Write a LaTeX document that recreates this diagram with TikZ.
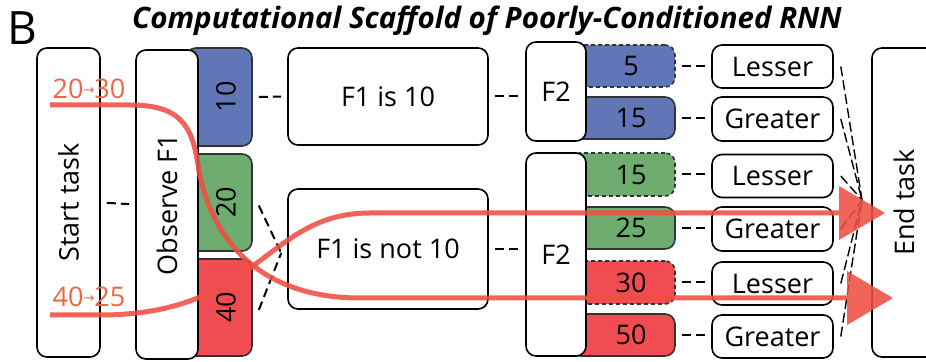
\documentclass[tikz,border=0pt]{standalone}
\usepackage{fontspec}
\setmainfont{Open Sans}
\newfontfamily\arrowfont{DejaVu Sans}
\usepackage{tikz}
\usetikzlibrary{arrows.meta}

\begin{document}
\begin{tikzpicture}[>={Triangle[length=46bp,width=54bp,line width=0bp]},
  font=\fontsize{27bp}{32bp}\selectfont,
  box/.style={draw,rounded corners=10bp,line width=1.6bp,fill=white,inner sep=0pt},
  cbox/.style={draw=black!80,rounded corners=10bp,line width=1.6bp,inner sep=0pt},
  guess/.style={cbox,dash pattern=on 4bp off 3bp},
  link/.style={dash pattern=on 9bp off 5bp,line width=2bp,shorten <=6bp,shorten >=6bp},
  fan/.style={dash pattern=on 10bp off 4bp,line width=1.4bp},
  flow/.style={->,draw=flowc,opacity=0.88,line width=5bp}]
%%
%%
\definecolor{cblue}{RGB}{96,118,182}%
\definecolor{cgreen}{RGB}{111,172,111}%
\definecolor{cred}{RGB}{240,76,82}%
\definecolor{flowc}{RGB}{238,78,66}%
\definecolor{labc}{RGB}{242,100,64}%
%
\clip (0bp,0bp) rectangle (926bp,362bp);
  \node (title) at (487bp,341bp) [font=\fontsize{29.5bp}{34bp}\selectfont] {\bfseries\itshape Computational Scaffold of Poorly-Conditioned RNN};
  \node (panel) at (22bp,334bp) [font=\fontsize{46bp}{52bp}\selectfont] {B};
%
\begin{scope}
  % first feature, colour coded
  \node (b10) at (219bp,265bp) [cbox,fill=cblue,minimum width=66bp,minimum height=98bp] {};
  \node (b20) at (219bp,159.5bp) [cbox,fill=cgreen,minimum width=66bp,minimum height=97bp] {};
  \node (b40) at (219bp,54.5bp) [cbox,fill=cred,minimum width=66bp,minimum height=97bp] {};
  \node (n10) at (226bp,265bp) [rotate=90] {10};
  \node (n20) at (226bp,159.5bp) [rotate=90] {20};
  \node (n40) at (226bp,54.5bp) [rotate=90] {40};
\end{scope}
\begin{scope}
  % second feature, colour coded
  \node (c5) at (622.5bp,296bp) [guess,fill=cblue,minimum width=105bp,minimum height=42bp] {};
  \node (c15a) at (622.5bp,244bp) [cbox,fill=cblue,minimum width=105bp,minimum height=42bp] {};
  \node (c15b) at (622.5bp,187.5bp) [guess,fill=cgreen,minimum width=105bp,minimum height=43bp] {};
  \node (c25) at (622.5bp,134bp) [cbox,fill=cgreen,minimum width=105bp,minimum height=42bp] {};
  \node (c30) at (622.5bp,79.5bp) [guess,fill=cred,minimum width=105bp,minimum height=43bp] {};
  \node (c50) at (622.5bp,27bp) [cbox,fill=cred,minimum width=105bp,minimum height=42bp] {};
  \node (n5) at (631bp,296bp) {5};
  \node (n15a) at (631bp,244bp) {15};
  \node (n15b) at (631bp,187.5bp) {15};
  \node (n25) at (631bp,134bp) {25};
  \node (n30) at (631bp,79.5bp) {30};
  \node (n50) at (631bp,27bp) {50};
\end{scope}
%
  \node (start) at (68.5bp,159.5bp) [box,rotate=90,minimum width=309bp,minimum height=63bp] {Start task};
  \node (obs) at (167bp,157.5bp) [box,rotate=90,minimum width=309bp,minimum height=62bp] {Observe F1};
  \node (f1a) at (388bp,265.5bp) [box,minimum width=200bp,minimum height=97bp] {F1 is 10};
  \node (f1b) at (388bp,113bp) [box,minimum width=200bp,minimum height=120bp] {F1 is not 10};
  \node (f2a) at (556bp,270.5bp) [box,minimum width=60bp,minimum height=99bp] {F2};
  \node (f2b) at (556bp,107.5bp) [box,minimum width=60bp,minimum height=203bp] {F2};
  \node (l1) at (772.5bp,295.5bp) [box,minimum width=121bp,minimum height=43bp] {Lesser};
  \node (g1) at (772.5bp,243bp) [box,minimum width=121bp,minimum height=44bp] {Greater};
  \node (l2) at (772.5bp,186bp) [box,minimum width=121bp,minimum height=43bp] {Lesser};
  \node (g2) at (772.5bp,133bp) [box,minimum width=121bp,minimum height=44bp] {Greater};
  \node (l3) at (772.5bp,78.5bp) [box,minimum width=121bp,minimum height=43bp] {Lesser};
  \node (g3) at (772.5bp,25.5bp) [box,minimum width=121bp,minimum height=43bp] {Greater};
  \node (end) at (904bp,159.5bp) [box,rotate=90,minimum width=309bp,minimum height=64bp] {End task};

  \path[link] (start.south) edge (obs.north);
  \path[link] (b10.east) edge (f1a.west);
  \path[link,shorten <=0bp,shorten >=0bp] ([xshift=6bp,yshift=-3bp]b20.east) edge ([xshift=-6bp,yshift=-4bp]f1b.west);
  \path[link,shorten <=0bp,shorten >=0bp] ([xshift=6bp,yshift=-2.5bp]b40.east) edge ([xshift=-6bp,yshift=-4bp]f1b.west);
  \path[link] (f1a.east) edge (f1a.east -| f2a.west);
  \path[link] (f1b.east) edge (f1b.east -| f2b.west);
  \path[link] (c5.east) edge (c5.east -| l1.west);
  \path[link] (c15a.east) edge (c15a.east -| g1.west);
  \path[link] (c15b.east) edge (c15b.east -| l2.west);
  \path[link] (c25.east) edge (c25.east -| g2.west);
  \path[link] (c30.east) edge (c30.east -| l3.west);
  \path[link] (c50.east) edge (c50.east -| g3.west);

  \coordinate (hub) at (862bp,162bp);
  \draw[fan] ([xshift=7bp]l1.east) -- (hub);
  \draw[fan] ([xshift=7bp]g1.east) -- (hub);
  \draw[fan] ([xshift=7bp]l2.east) -- (hub);
  \draw[fan] ([xshift=7bp]g2.east) -- (hub);
  \draw[fan] ([xshift=7bp]l3.east) -- (hub);
  \draw[fan] ([xshift=7bp]g3.east) -- (hub);

%  the two trials
  \node (lab1) at (89bp,273bp) [text=labc] {20\raisebox{4bp}{\arrowfont\fontsize{13bp}{13bp}\selectfont →}30};
  \node (lab2) at (89bp,65bp) [text=labc] {40\raisebox{4bp}{\arrowfont\fontsize{13bp}{13bp}\selectfont →}25};
  \coordinate (s1) at (50bp,257bp);
  \coordinate (t1) at (893bp,64bp);
  \coordinate (s2) at (50bp,47bp);
  \coordinate (t2) at (885bp,149bp);
  \draw[flow] (s1) -- (130bp,257bp) .. controls (180bp,257bp) and (192bp,237bp) .. (198bp,197bp) .. controls (210bp,122bp) and (260bp,64bp) .. (360bp,64bp) -- (t1);
  \draw[flow] (s2) -- (100bp,47bp) .. controls (260bp,47bp) and (265bp,149bp) .. (370bp,149bp) -- (t2);
%
\end{tikzpicture}
\end{document}
